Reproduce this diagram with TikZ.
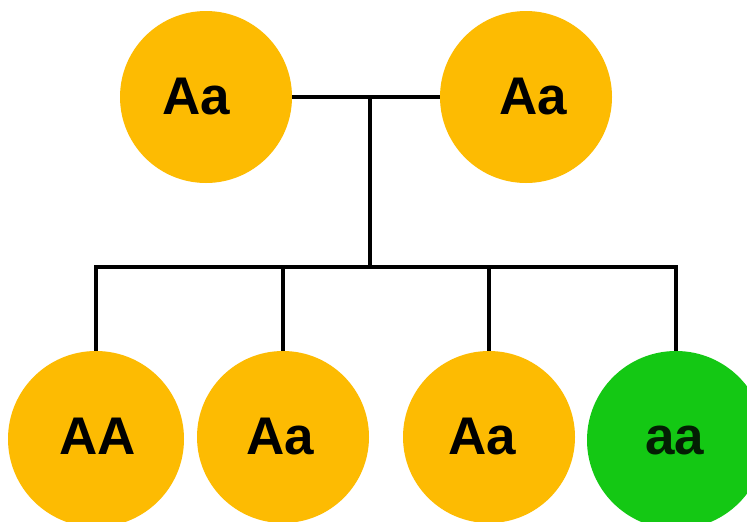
\documentclass[tikz,border=0pt]{standalone}
\usepackage{fontspec}
\setmainfont{Liberation Sans}
\definecolor{geno}{HTML}{FDBB02}
\definecolor{reces}{HTML}{14C814}
\begin{document}
\begin{tikzpicture}[x=1pt,y=-1pt,
  person/.style={circle,fill=#1,draw=none,inner sep=0pt,minimum size=172pt},
  person/.default=geno,
  gtext/.style={font=\fontsize{53}{53}\selectfont\bfseries,text=black,anchor=base,inner sep=0pt},
  link/.style={draw=black,line width=4.5pt,line cap=rect}]
\useasboundingbox[fill=white] (0,0) rectangle (747,522);
\clip (0,0) rectangle (747,522);
% parents
\node[person] (p1) at (206,97) {};
\node[person] (p2) at (526,97) {};
\node[gtext] at (196,114) {Aa};
\node[gtext] at (533,114) {Aa};
% offspring
\node[person,minimum size=176pt] (c1) at (96,439) {};
\node[person] (c2) at (283,437) {};
\node[person] (c3) at (489,437) {};
\node[person=reces,minimum size=178pt] (c4) at (676,440) {};
\node[gtext] at (98,454) {AA};
\node[gtext] at (280,454) {Aa};
\node[gtext] at (482,454) {Aa};
\node[gtext,text=black!85!reces] at (675,454) {aa};
% pedigree lines
\coordinate (mate) at (370,97);
\coordinate (sib) at (370,267);
\coordinate (s1) at (c1.north |- sib);
\coordinate (s2) at (c2.north |- sib);
\coordinate (s3) at (c3.north |- sib);
\coordinate (s4) at (c4.north |- sib);
\draw[link,line cap=butt] (p1.east) -- (p2.west);
\draw[link,line cap=butt] (mate) -- (sib);
\draw[link] (s1) -- (s4);
\draw[link,line cap=butt] (s1) -- (c1.north);
\draw[link,line cap=butt] (s2) -- (c2.north);
\draw[link,line cap=butt] (s3) -- (c3.north);
\draw[link,line cap=butt] (s4) -- (c4.north);
\end{tikzpicture}
\end{document}
